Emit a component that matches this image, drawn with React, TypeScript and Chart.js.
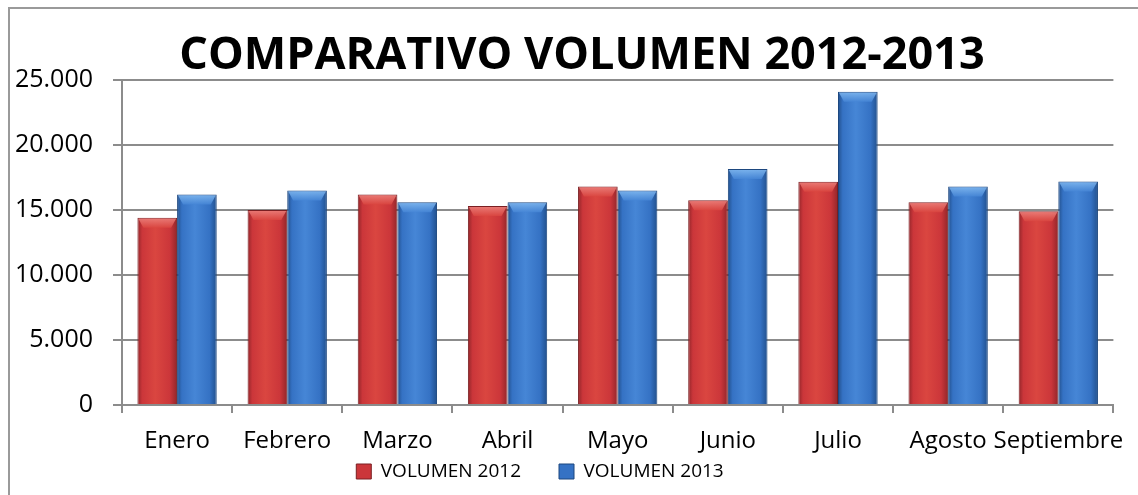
import React, { useEffect, useRef } from "react";
import { Chart, registerables } from "chart.js";

Chart.register(...registerables);

const categories = ["Enero", "Febrero", "Marzo", "Abril", "Mayo", "Junio", "Julio", "Agosto", "Septiembre"];
const volumen2012 = [14400, 15000, 16200, 15300, 16800, 15750, 17180, 15600, 14900];
const volumen2013 = [16200, 16500, 15600, 15600, 16500, 18150, 24100, 16800, 17200];
const seriesNames = ["VOLUMEN 2012", "VOLUMEN 2013"];
const yTicks = [0, 5000, 10000, 15000, 20000, 25000];
const titleText = "COMPARATIVO VOLUMEN 2012-2013";

const CAT_PCT = 0.72;
const palettes = [
  { dark: "#92262a", mid: "#cb363a", light: "#da4640", bevel: "#ee8782", border: "#7a1f22" },
  { dark: "#22508c", mid: "#3572c4", light: "#4686d6", bevel: "#86bdf2", border: "#1d477f" },
];

const fmt = (v: number) => String(v).replace(/\B(?=(\d{3})+(?!\d))/g, ".");

function barFill(ctx: any) {
  const chart = ctx.chart;
  const p = palettes[ctx.datasetIndex] || palettes[0];
  const xs = chart.scales && chart.scales.x;
  if (!chart.chartArea || ctx.dataIndex == null || !xs || !isFinite(xs.width)) return p.mid;
  const center = xs.getPixelForValue(ctx.dataIndex);
  const cat = xs.width / categories.length;
  const w = (cat * CAT_PCT) / 2;
  const left = ctx.datasetIndex === 0 ? center - w : center;
  if (!isFinite(left)) return p.mid;
  const g = chart.ctx.createLinearGradient(left, 0, left + w, 0);
  g.addColorStop(0, p.dark);
  g.addColorStop(0.12, p.mid);
  g.addColorStop(0.45, p.light);
  g.addColorStop(0.82, p.mid);
  g.addColorStop(1, p.dark);
  return g;
}

const bevelPlugin = {
  id: "bevel",
  afterLayout(chart: any) {
    if (chart.titleBlock) {
      chart.titleBlock.left += 21;
      chart.titleBlock.right += 21;
    }
    if (chart.legend) {
      chart.legend.left -= 21;
      chart.legend.right -= 21;
    }
    if (chart.scales && chart.scales.x) {
      chart.scales.x.bottom = chart.height;
    }
  },
  afterDatasetsDraw(chart: any) {
    const c = chart.ctx;
    chart.data.datasets.forEach((ds: any, di: number) => {
      const meta = chart.getDatasetMeta(di);
      const p = palettes[di];
      meta.data.forEach((el: any) => {
        const { x, y, width } = el.getProps(["x", "y", "width"], true);
        const l = x - width / 2 + 1;
        const r = x + width / 2 - 1;
        const h = 10;
        const g = c.createLinearGradient(0, y, 0, y + h);
        g.addColorStop(0, p.bevel);
        g.addColorStop(1, p.light);
        c.save();
        c.beginPath();
        c.moveTo(l, y + 1);
        c.lineTo(r, y + 1);
        c.lineTo(r - 5, y + h);
        c.lineTo(l + 5, y + h);
        c.closePath();
        c.fillStyle = g;
        c.globalAlpha = 0.85;
        c.fill();
        c.restore();
      });
    });
  },
};

export default function App() {
  const ref = useRef<HTMLCanvasElement | null>(null);
  useEffect(() => {
    if (!ref.current) return;
    const chart = new Chart(ref.current, {
      type: "bar",
      data: {
        labels: categories,
        datasets: [
          {
            label: seriesNames[0],
            data: volumen2012,
            backgroundColor: barFill,
            borderColor: palettes[0].border,
            borderWidth: 1,
            categoryPercentage: CAT_PCT,
            barPercentage: 1,
          },
          {
            label: seriesNames[1],
            data: volumen2013,
            backgroundColor: barFill,
            borderColor: palettes[1].border,
            borderWidth: 1,
            categoryPercentage: CAT_PCT,
            barPercentage: 1,
          },
        ],
      },
      options: {
        animation: false,
        responsive: false,
        maintainAspectRatio: false,
        layout: { padding: { left: 0, right: 16, top: 0, bottom: 4 } },
        plugins: {
          title: {
            display: true,
            text: titleText,
            color: "#000",
            font: { family: "'Open Sans'", size: 45, weight: "bold", lineHeight: 0.95 },
            padding: { top: 35, bottom: 2.25 },
          },
          legend: {
            position: "bottom",
            labels: {
              color: "#000",
              font: { family: "'Open Sans'", size: 19 },
              boxWidth: 15,
              boxHeight: 15,
              padding: 38,
              generateLabels: () =>
                seriesNames.map((n, i) => ({
                  text: n,
                  fillStyle: palettes[i].mid,
                  strokeStyle: palettes[i].border,
                  lineWidth: 1,
                  datasetIndex: i,
                  hidden: false,
                })),
            },
          },
          tooltip: { enabled: false },
        },
        scales: {
          x: {
            afterFit: (s: any) => {
              s.height = 19;
            },
            grid: { display: true, drawOnChartArea: false, drawTicks: true, tickLength: 8, color: "#8c8c8c", lineWidth: 2, offset: true },
            border: { display: true, color: "#8c8c8c", width: 2 },
            ticks: { color: "#000", font: { family: "'Open Sans'", size: 24 }, padding: 14, maxRotation: 0, autoSkip: false },
          },
          y: {
            min: 0,
            max: 25000,
            afterBuildTicks: (s: any) => {
              s.ticks = yTicks.map((v) => ({ value: v }));
            },
            afterFit: (s: any) => {
              s.width = 122;
            },
            grid: { color: "#8c8c8c", lineWidth: 2, tickLength: 9, drawTicks: true },
            border: { display: true, color: "#8c8c8c", width: 2 },
            ticks: {
              color: "#000",
              font: { family: "'Open Sans'", size: 25 },
              padding: 20,
              callback: (v: any) => fmt(Number(v)),
            },
          },
        },
      },
      plugins: [bevelPlugin],
    });
    return () => chart.destroy();
  }, []);

  return (
    <div style={{ position: "fixed", left: 0, top: 0, width: 1138, height: 495, overflow: "hidden", background: "#fff" }}>
      <div
        style={{
          position: "absolute",
          left: 8,
          top: 7,
          width: 1140,
          height: 500,
          borderTop: "2px solid #9a9a9a",
          borderLeft: "2px solid #9a9a9a",
        }}
      />
      <canvas ref={ref} width={1138} height={495} style={{ position: "absolute", left: 0, top: 0, width: 1138, height: 495 }} />
    </div>
  );
}
